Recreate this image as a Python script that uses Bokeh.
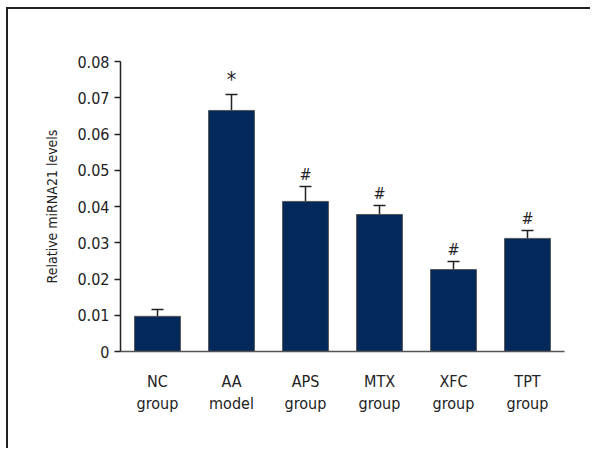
from bokeh.plotting import figure
from bokeh.models import FactorRange, ColumnDataSource, Whisker, CustomJSTickFormatter, FixedTicker
from bokeh.core.properties import value
from bokeh.embed import file_html
from bokeh.resources import INLINE

categories = ["NC\ngroup", "AA\nmodel", "APS\ngroup", "MTX\ngroup", "XFC\ngroup", "TPT\ngroup"]
means = [0.0097, 0.0665, 0.0414, 0.0378, 0.0226, 0.0312]
err_upper = [0.0116, 0.0709, 0.0455, 0.0403, 0.0248, 0.0334]
err_lower = [0.0090, 0.0618, 0.0375, 0.0355, 0.0200, 0.0290]
marks = ["", "*", "#", "#", "#", "#"]
mark_sizes = ["16px", "21px", "16px", "16px", "16px", "16px"]
y_ticks = [0, 0.01, 0.02, 0.03, 0.04, 0.05, 0.06, 0.07, 0.08]

FONT = "DejaVu Sans Condensed"

src = ColumnDataSource(dict(x=categories, top=means, upper=err_upper, lower=err_lower,
                            mark=marks, size=mark_sizes,
                            mark_y=[u + 0.0008 for u in err_upper]))

p = figure(x_range=FactorRange(factors=categories, range_padding=0), y_range=(0, 0.08),
           width=584, height=441, output_backend="svg", toolbar_location=None,
           min_border_left=112, min_border_right=28, min_border_top=52, min_border_bottom=99)
p.styles = {"border-top": "2px solid #222", "border-left": "2px solid #222",
            "margin-top": "7px", "margin-left": "6px"}
p.outline_line_color = None
p.xgrid.grid_line_color = None
p.ygrid.grid_line_color = None

p.vbar(x="x", top="top", width=0.62, source=src, fill_color="#03295b", line_color="#555555", line_width=1)
w = Whisker(base="x", upper="upper", lower="lower", source=src, line_color="#222222", line_width=1.5)
w.upper_head.size = 12
w.lower_head.size = 12
w.upper_head.line_color = "#222222"
w.lower_head.line_color = "#222222"
w.upper_head.line_width = 1.5
w.lower_head.line_width = 1.5
p.add_layout(w)

p.text(x="x", y="mark_y", text="mark", source=src, text_align="center", text_baseline="bottom",
       text_font=value(FONT), text_font_size="size", text_color="#222222")

p.yaxis.ticker = FixedTicker(ticks=y_ticks)
p.yaxis.formatter = CustomJSTickFormatter(code="return tick == 0 ? '0' : tick.toFixed(2);")
p.yaxis.minor_tick_line_color = None
p.yaxis.major_tick_in = 0
p.yaxis.major_tick_out = 6
p.yaxis.axis_line_color = "#222222"
p.yaxis.major_tick_line_color = "#222222"
p.yaxis.axis_line_width = 1.5
p.yaxis.major_tick_line_width = 1.5
p.yaxis.major_label_text_font = FONT
p.yaxis.major_label_text_font_size = "16px"
p.yaxis.major_label_text_color = "#222222"
p.yaxis.major_label_standoff = 5
p.yaxis.axis_label = "Relative miRNA21 levels"
p.yaxis.axis_label_text_font = FONT
p.yaxis.axis_label_text_font_size = "14px"
p.yaxis.axis_label_text_font_style = "normal"
p.yaxis.axis_label_text_color = "#222222"
p.yaxis.axis_label_standoff = 14

p.xaxis.major_tick_line_color = None
p.xaxis.minor_tick_line_color = None
p.xaxis.axis_line_color = "#555555"
p.xaxis.axis_line_width = 1.5
p.xaxis.major_label_text_font = FONT
p.xaxis.major_label_text_font_size = "16px"
p.xaxis.major_label_text_color = "#222222"
p.xaxis.major_label_standoff = 14

open("out.html", "w").write(file_html(p, INLINE))
